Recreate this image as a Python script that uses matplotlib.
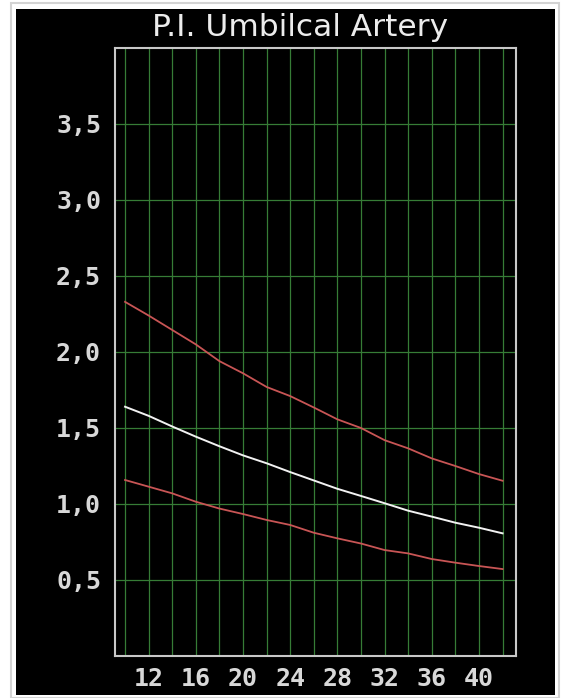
import matplotlib
matplotlib.use("Agg")
import matplotlib.pyplot as plt
from matplotlib.patches import Rectangle
from matplotlib.ticker import FixedLocator, FuncFormatter

# gestational age (weeks) and P.I. percentiles
weeks = [10, 12, 14, 16, 18, 20, 22, 24, 26, 28, 30, 32, 34, 36, 38, 40, 42]
p95 = [2.33, 2.24, 2.145, 2.05, 1.94, 1.86, 1.77, 1.71, 1.635, 1.557, 1.50,
       1.42, 1.366, 1.30, 1.25, 1.197, 1.153]
p50 = [1.64, 1.58, 1.51, 1.443, 1.38, 1.32, 1.268, 1.21, 1.155, 1.10, 1.053,
       1.005, 0.956, 0.917, 0.877, 0.844, 0.807]
p5 = [1.158, 1.114, 1.07, 1.015, 0.97, 0.934, 0.895, 0.862, 0.811, 0.774,
      0.74, 0.697, 0.675, 0.638, 0.614, 0.592, 0.572]

x_labels = [12, 16, 20, 24, 28, 32, 36, 40]
x_grid = list(range(10, 43, 2))
y_labels = [0.5, 1.0, 1.5, 2.0, 2.5, 3.0, 3.5]

title = "P.I. Umbilcal Artery"

W, H = 565, 698
fig = plt.figure(figsize=(W / 100, H / 100), dpi=100)
fig.patch.set_facecolor("white")

# thumbnail frame: thin gray line, white gap, black picture
fig.patches.append(Rectangle((11 / W, 0), 548 / W, 1 - 3 / H, transform=fig.transFigure,
                             facecolor="none", edgecolor="#d4d4d4", lw=1.5, zorder=-2))
fig.patches.append(Rectangle((16 / W, 3 / H), 539 / W, 686 / H, transform=fig.transFigure,
                             facecolor="black", edgecolor="none", zorder=-1))

ax = fig.add_axes([115 / W, 1 - 656 / H, 401 / W, 608 / H])
ax.set_zorder(2)
ax.set_facecolor("black")

grid_color = "#367c36"
for g in x_grid:
    ax.axvline(g, color=grid_color, lw=0.9, zorder=1)
for g in y_labels:
    ax.axhline(g, color=grid_color, lw=0.9, zorder=1)

ax.plot(weeks, p95, color="#c85555", lw=1.3, zorder=3)
ax.plot(weeks, p50, color="#f2f2f2", lw=1.4, zorder=3)
ax.plot(weeks, p5, color="#c85555", lw=1.3, zorder=3)

ax.set_xlim(9.15, 43.14)
ax.set_ylim(0, 4)

ax.xaxis.set_major_locator(FixedLocator(x_labels))
ax.yaxis.set_major_locator(FixedLocator(y_labels))
ax.yaxis.set_major_formatter(FuncFormatter(lambda v, p: f"{v:.1f}".replace(".", ",")))

ax.tick_params(which="both", length=0)
ax.tick_params(axis="x", pad=8, colors="#d8d8d8")
ax.tick_params(axis="y", pad=10, colors="#d8d8d8")
for lab in ax.get_xticklabels() + ax.get_yticklabels():
    lab.set_family("DejaVu Sans Mono")
    lab.set_fontweight("bold")
    lab.set_fontsize(18)

for s in ax.spines.values():
    s.set_color("#c8c8c8")
    s.set_linewidth(1.5)

fig.text(300 / W, 1 - 36 / H, title, ha="center", va="baseline",
         color="#ececec", fontsize=22.5, family="DejaVu Sans")

fig.savefig("out.png", dpi=100, facecolor=fig.get_facecolor())
